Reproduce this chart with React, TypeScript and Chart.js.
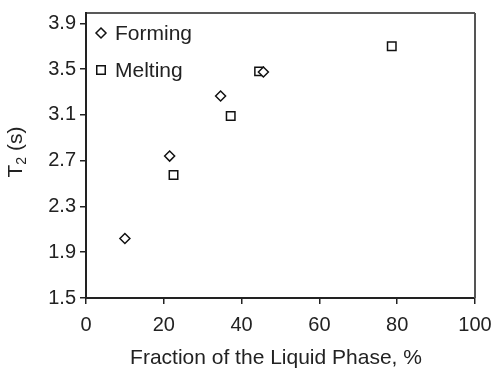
import React, { useEffect, useRef } from "react";
import { Chart, registerables } from "chart.js";

Chart.register(...registerables);

const formingX = [10, 21.5, 34.6, 45.6];
const formingY = [2.02, 2.74, 3.265, 3.475];
const meltingX = [22.5, 37.2, 44.5, 78.6];
const meltingY = [2.575, 3.09, 3.48, 3.7];
const yTicks = [1.5, 1.9, 2.3, 2.7, 3.1, 3.5, 3.9];
const xTitle = "Fraction of the Liquid Phase, %";
const legendLabels = ["Forming", "Melting"];

const FONT = "'Liberation Sans', Arial, sans-serif";
const INK = "#222";

function drawMarker(ctx: CanvasRenderingContext2D, style: string, r: number, x: number, y: number) {
  ctx.beginPath();
  if (style === "rectRot") {
    ctx.moveTo(x, y - r);
    ctx.lineTo(x + r, y);
    ctx.lineTo(x, y + r);
    ctx.lineTo(x - r, y);
    ctx.closePath();
  } else {
    const s = r * Math.SQRT1_2;
    ctx.rect(x - s, y - s, 2 * s, 2 * s);
  }
  ctx.fill();
  ctx.stroke();
}

const decorPlugin = {
  id: "decor",
  afterDraw(chart: any) {
    const { ctx, chartArea } = chart;
    const { left, right, top, bottom } = chartArea;
    ctx.save();
    ctx.lineWidth = 1.5;
    ctx.strokeStyle = INK;
    ctx.beginPath();
    ctx.moveTo(left, top);
    ctx.lineTo(right, top);
    ctx.stroke();
    ctx.strokeStyle = "#555";
    ctx.lineWidth = 2;
    ctx.beginPath();
    ctx.moveTo(right, top);
    ctx.lineTo(right, bottom);
    ctx.stroke();

    const items = [
      { style: "rectRot", r: 5, label: legendLabels[0], y: 33 },
      { style: "rect", r: 6, label: legendLabels[1], y: 70 },
    ];
    ctx.font = `21px ${FONT}`;
    ctx.textBaseline = "middle";
    ctx.textAlign = "left";
    for (const it of items) {
      ctx.lineWidth = 1.5;
      ctx.strokeStyle = "#111";
      ctx.fillStyle = "#fff";
      drawMarker(ctx, it.style, it.r, 101, it.y);
      ctx.fillStyle = INK;
      ctx.fillText(it.label, 115, it.y + 1);
    }

    ctx.textAlign = "center";
    ctx.fillText(xTitle, 276, 358);

    ctx.translate(15, 152);
    ctx.rotate(-Math.PI / 2);
    const big = `21px ${FONT}`;
    const small = `14px ${FONT}`;
    ctx.font = big;
    const wT = ctx.measureText("T").width;
    const wS = ctx.measureText(" (s)").width;
    ctx.font = small;
    const w2 = ctx.measureText("2").width;
    const total = wT + w2 + wS;
    let x = -total / 2;
    ctx.textAlign = "left";
    ctx.textBaseline = "alphabetic";
    ctx.font = big;
    ctx.fillText("T", x, 7);
    x += wT;
    ctx.font = small;
    ctx.fillText("2", x, 11);
    x += w2;
    ctx.font = big;
    ctx.fillText(" (s)", x, 7);
    ctx.restore();
  },
};

export default function App() {
  const ref = useRef<HTMLCanvasElement | null>(null);
  useEffect(() => {
    if (!ref.current) return;
    const chart = new Chart(ref.current, {
      type: "scatter",
      data: {
        datasets: [
          {
            label: legendLabels[0],
            data: formingX.map((x, i) => ({ x, y: formingY[i] })),
            pointStyle: "rectRot",
            pointRadius: 5,
            borderColor: "#111",
            backgroundColor: "#fff",
            borderWidth: 1.5,
          },
          {
            label: legendLabels[1],
            data: meltingX.map((x, i) => ({ x, y: meltingY[i] })),
            pointStyle: "rect",
            pointRadius: 6,
            borderColor: "#111",
            backgroundColor: "#fff",
            borderWidth: 1.5,
          },
        ],
      },
      options: {
        animation: false,
        responsive: false,
        layout: { padding: { top: 13, right: 21, left: 0, bottom: 0 } },
        plugins: { legend: { display: false }, tooltip: { enabled: false } },
        scales: {
          x: {
            type: "linear",
            min: 0,
            max: 100,
            ticks: {
              stepSize: 20,
              font: { family: FONT, size: 20 },
              color: INK,
              padding: 9,
              maxRotation: 0,
            },
            grid: { drawOnChartArea: false, tickLength: 6, color: INK, lineWidth: 1.5 },
            border: { display: true, color: INK, width: 2 },
            afterFit: (s: any) => {
              s.height = 71;
              s.paddingLeft = 0;
              s.paddingRight = 0;
            },
          },
          y: {
            type: "linear",
            min: 1.5,
            max: 3.99,
            afterBuildTicks: (axis: any) => {
              axis.ticks = yTicks.map((v) => ({ value: v }));
            },
            ticks: {
              font: { family: FONT, size: 20 },
              color: INK,
              padding: 4,
              callback: (v: any) => Number(v).toFixed(1),
            },
            grid: { drawOnChartArea: false, tickLength: 6, color: INK, lineWidth: 1.5 },
            border: { display: true, color: INK, width: 2 },
            afterFit: (s: any) => {
              s.width = 86;
              s.paddingTop = 0;
              s.paddingBottom = 0;
            },
          },
        },
      },
      plugins: [decorPlugin],
    } as any);
    return () => chart.destroy();
  }, []);
  return (
    <div style={{ position: "fixed", left: 0, top: 0, width: 496, height: 369, background: "#fff" }}>
      <canvas ref={ref} width={496} height={369} style={{ display: "block" }} />
    </div>
  );
}
